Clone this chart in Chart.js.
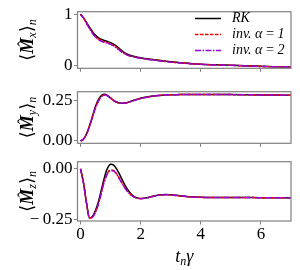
<!DOCTYPE html>
<html>
<head>
<meta charset="utf-8">
<script src="https://cdn.jsdelivr.net/npm/chart.js@4"></script>
<style>
  body { margin: 0; background: #fff; }
  #wrap { position: relative; width: 300px; height: 270px; }
  canvas { position: absolute; left: 0; }
</style>
</head>
<body>
<div id="wrap">
  <canvas id="mx" width="300" height="80" style="top:0"></canvas>
  <canvas id="my" width="300" height="75" style="top:80px"></canvas>
  <canvas id="mz" width="300" height="120" style="top:150px"></canvas>
</div>
<script>
// time grid (t_n * gamma)
const tGrid = [0, 0.1, 0.2, 0.3, 0.4, 0.5, 0.6, 0.7, 0.8, 0.9, 1.0, 1.1, 1.2, 1.3, 1.4, 1.5, 1.6, 1.7, 1.8, 1.9, 2.0,
  2.2, 2.4, 2.6, 2.8, 3.0, 3.3, 3.6, 4.0, 4.5, 5.0, 5.5, 6.0, 6.5, 7.0];

const seriesNames = ['RK', 'inv. α\u2009=\u20091', 'inv. α\u2009=\u20092'];
const xTicks = [0, 2, 4, 6];

// <Mx>
const mxRK = [1.0, 0.93, 0.84, 0.75, 0.66, 0.59, 0.54, 0.51, 0.49, 0.47, 0.45, 0.42, 0.38, 0.33, 0.28, 0.24, 0.215, 0.195, 0.18, 0.165, 0.155,
  0.136, 0.12, 0.105, 0.09, 0.076, 0.06, 0.046, 0.03, 0.018, 0.01, -0.002, -0.012, -0.019, -0.025];
const mxInv1 = [1.0, 0.93, 0.83, 0.73, 0.64, 0.565, 0.515, 0.485, 0.465, 0.445, 0.425, 0.395, 0.355, 0.305, 0.26, 0.225, 0.2, 0.183, 0.17, 0.157, 0.147,
  0.13, 0.115, 0.1, 0.086, 0.072, 0.056, 0.043, 0.028, 0.016, 0.008, -0.003, -0.013, -0.02, -0.026];
const mxInv2 = [1.0, 0.93, 0.825, 0.725, 0.63, 0.555, 0.505, 0.475, 0.455, 0.435, 0.415, 0.385, 0.345, 0.298, 0.255, 0.22, 0.196, 0.18, 0.167, 0.155, 0.145,
  0.128, 0.113, 0.098, 0.084, 0.07, 0.055, 0.042, 0.027, 0.015, 0.007, -0.004, -0.014, -0.021, -0.027];
const mxTicks = [0, 1];

// <My>
const myRK = [0, 0.012, 0.045, 0.095, 0.155, 0.215, 0.258, 0.283, 0.289, 0.281, 0.265, 0.25, 0.24, 0.235, 0.234, 0.236, 0.241, 0.247, 0.253, 0.259, 0.264,
  0.272, 0.278, 0.282, 0.285, 0.286, 0.287, 0.288, 0.288, 0.288, 0.287, 0.286, 0.285, 0.284, 0.283];
const myInv1 = [0, 0.011, 0.043, 0.092, 0.15, 0.208, 0.25, 0.277, 0.285, 0.28, 0.266, 0.251, 0.241, 0.235, 0.233, 0.235, 0.24, 0.246, 0.252, 0.258, 0.263,
  0.271, 0.277, 0.281, 0.284, 0.286, 0.287, 0.288, 0.288, 0.288, 0.287, 0.286, 0.285, 0.284, 0.283];
const myInv2 = [0, 0.011, 0.042, 0.09, 0.148, 0.205, 0.248, 0.275, 0.284, 0.28, 0.267, 0.252, 0.242, 0.235, 0.233, 0.235, 0.24, 0.246, 0.252, 0.258, 0.263,
  0.271, 0.277, 0.281, 0.284, 0.286, 0.287, 0.288, 0.288, 0.288, 0.287, 0.286, 0.285, 0.284, 0.283];
const myTicks = [0, 0.25];

// <Mz>
const mzRK = [0, -0.07, -0.17, -0.243, -0.235, -0.205, -0.16, -0.1, -0.04, 0.003, 0.022, 0.018, 0.0, -0.028, -0.058, -0.087, -0.11, -0.127, -0.139, -0.145, -0.147,
  -0.143, -0.136, -0.13, -0.127, -0.128, -0.133, -0.138, -0.141, -0.142, -0.142, -0.142, -0.143, -0.143, -0.143];
const mzInv1 = [0, -0.07, -0.17, -0.243, -0.238, -0.212, -0.17, -0.112, -0.056, -0.02, -0.006, -0.008, -0.024, -0.049, -0.075, -0.098, -0.117, -0.131, -0.141, -0.146, -0.148,
  -0.144, -0.137, -0.131, -0.128, -0.129, -0.134, -0.138, -0.141, -0.142, -0.142, -0.142, -0.143, -0.143, -0.143];
const mzInv2 = [0, -0.07, -0.17, -0.244, -0.239, -0.214, -0.173, -0.116, -0.06, -0.024, -0.01, -0.011, -0.026, -0.051, -0.077, -0.1, -0.118, -0.132, -0.141, -0.146, -0.148,
  -0.144, -0.137, -0.131, -0.128, -0.129, -0.134, -0.138, -0.141, -0.142, -0.142, -0.142, -0.143, -0.143, -0.143];
const mzTicks = [-0.25, 0];

const black = '#000000';
const red = '#ff0000';
const purple = '#9400d3';
const frameGray = '#808080';
const serif = "'Liberation Serif', 'DejaVu Serif', serif";

const pts = vals => vals.map((v, i) => ({ x: tGrid[i], y: v }));

function datasets(rk, inv1, inv2) {
  return [
    { label: seriesNames[0], data: pts(rk), borderColor: black, borderWidth: 1.5, order: 2 },
    { label: seriesNames[1], data: pts(inv1), borderColor: red, borderWidth: 1.5, borderDash: [3.5, 1.5], order: 1 },
    { label: seriesNames[2], data: pts(inv2), borderColor: purple, borderWidth: 1.5, borderDash: [6, 1.5, 1.5, 1.5], order: 0 },
  ];
}

// gray box around the plot area
const framePlugin = {
  id: 'frame',
  afterDraw(chart) {
    const a = chart.chartArea, ctx = chart.ctx;
    ctx.save();
    ctx.strokeStyle = frameGray;
    ctx.lineWidth = 1.2;
    ctx.strokeRect(a.left, a.top, a.right - a.left, a.bottom - a.top);
    ctx.restore();
  }
};

// draw a run of text pieces (font, text, baseline shift) centred at 0
function drawPieces(ctx, pieces, y) {
  let w = 0;
  pieces.forEach(p => { ctx.font = p.font; p.w = ctx.measureText(p.text).width; w += p.w; });
  let x = -w / 2;
  pieces.forEach(p => {
    ctx.font = p.font;
    ctx.fillText(p.text, x, y + (p.dy || 0));
    if (p.hat) {
      ctx.font = "17px " + serif;
      ctx.fillText('ˆ', x + p.w / 2 - 1, y - 4);
    }
    x += p.w;
  });
}

// rotated <M_comp>_n label left of the axis
const yLabelPlugin = {
  id: 'ylabel',
  afterDraw(chart, args, opts) {
    const a = chart.chartArea, ctx = chart.ctx;
    ctx.save();
    ctx.fillStyle = '#000';
    ctx.textAlign = 'left';
    ctx.textBaseline = 'alphabetic';
    ctx.translate(opts.x, (a.top + a.bottom) / 2);
    ctx.rotate(-Math.PI / 2);
    drawPieces(ctx, [
      { text: '⟨', font: "18px " + serif },
      { text: 'M', font: "bold italic 18px " + serif, hat: true },
      { text: opts.comp, font: "italic 12px " + serif, dy: 3 },
      { text: '⟩', font: "18px " + serif },
      { text: 'n', font: "italic 12px " + serif, dy: 3 },
    ], 6);
    ctx.restore();
  }
};

// legend inside the top panel
const legendPlugin = {
  id: 'innerLegend',
  afterDraw(chart, args, opts) {
    if (!opts.show) return;
    const ctx = chart.ctx;
    ctx.save();
    chart.data.datasets.forEach((ds, i) => {
      const y = 18.5 + i * 16;
      ctx.strokeStyle = ds.borderColor;
      ctx.lineWidth = 1.5;
      ctx.setLineDash(ds.borderDash || []);
      ctx.beginPath();
      ctx.moveTo(195, y);
      ctx.lineTo(221, y);
      ctx.stroke();
      ctx.fillStyle = '#000';
      ctx.font = "italic 14px " + serif;
      ctx.textBaseline = 'middle';
      ctx.fillText(ds.label, 232, y);
    });
    ctx.restore();
  }
};

// x axis title under the last panel
const xLabelPlugin = {
  id: 'xlabel',
  afterDraw(chart, args, opts) {
    if (!opts.show) return;
    const a = chart.chartArea, ctx = chart.ctx;
    ctx.save();
    ctx.fillStyle = '#000';
    ctx.textBaseline = 'alphabetic';
    ctx.translate((a.left + a.right) / 2, 0);
    drawPieces(ctx, [
      { text: 't', font: "italic 18px " + serif },
      { text: 'n', font: "italic 12px " + serif, dy: 3 },
      { text: 'γ', font: "italic 18px " + serif },
    ], 112);
    ctx.restore();
  }
};

// mathtext-style labels: minus sign followed by a small gap
function fmt(digits) {
  return v => {
    const s = Number(v).toFixed(digits);
    return s.startsWith('-') ? '\u2212\u2009' + s.slice(1) : s;
  };
}

function makeChart(id, sets, yMin, yMax, yTicks, digits, comp, padTop, xHeight, bottom) {
  const ctx = document.getElementById(id).getContext('2d');
  return new Chart(ctx, {
    type: 'line',
    data: { datasets: sets },
    plugins: [framePlugin, yLabelPlugin, legendPlugin, xLabelPlugin],
    options: {
      responsive: false,
      animation: false,
      devicePixelRatio: 1,
      layout: { padding: { top: padTop, right: 9, left: 0, bottom: 0 } },
      elements: { point: { radius: 0 }, line: { tension: 0, cubicInterpolationMode: 'monotone', fill: false } },
      plugins: {
        legend: { display: false },
        tooltip: { enabled: false },
        ylabel: { comp: comp, x: 27 },
        innerLegend: { show: id === 'mx' },
        xlabel: { show: bottom },
      },
      scales: {
        x: {
          type: 'linear', min: -0.1, max: 7,
          afterBuildTicks: s => { s.ticks = xTicks.map(v => ({ value: v })); },
          afterFit: s => { s.height = xHeight; },
          grid: { drawOnChartArea: false, drawTicks: true, tickLength: 3.5, color: frameGray },
          border: { display: false },
          ticks: { display: bottom, color: '#000', padding: 0, font: { family: serif, size: 17 }, callback: v => String(v) },
        },
        y: {
          min: yMin, max: yMax,
          afterBuildTicks: s => { s.ticks = yTicks.map(v => ({ value: v })); },
          afterFit: s => { s.width = 77.5; },
          grid: { drawOnChartArea: false, drawTicks: true, tickLength: 3.5, color: frameGray },
          border: { display: false },
          ticks: { color: '#000', padding: 1.5, font: { family: serif, size: 17 }, callback: fmt(digits) },
        }
      }
    }
  });
}

makeChart('mx', datasets(mxRK, mxInv1, mxInv2), -0.05, 1.05, mxTicks, 0, 'x', 11.5, 9.5, false);
makeChart('my', datasets(myRK, myInv1, myInv2), -0.0145, 0.305, myTicks, 2, 'y', 6.6, 9.4, false);
makeChart('mz', datasets(mzRK, mzInv1, mzInv2), -0.258, 0.035, mzTicks, 2, 'z', 11.7, 49, true);
</script>
</body>
</html>
